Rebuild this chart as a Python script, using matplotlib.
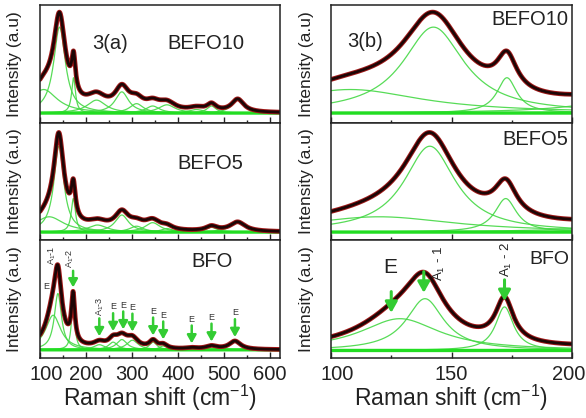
import numpy as np
import matplotlib
matplotlib.use('Agg')
import matplotlib.pyplot as plt
import matplotlib.transforms as mtransforms
from matplotlib.ticker import MultipleLocator

plt.rcParams['font.family'] = ['Liberation Sans', 'DejaVu Sans']
plt.rcParams['mathtext.fontset'] = 'custom'
plt.rcParams['mathtext.rm'] = 'Liberation Sans'
plt.rcParams['mathtext.it'] = 'Liberation Sans:italic'
plt.rcParams['mathtext.bf'] = 'Liberation Sans:bold'

# ---------------- data: fitted Lorentzian modes (centre cm-1, amplitude, HWHM) ----
samples = ['BEFO10', 'BEFO5', 'BFO']

befo10_centers = [108, 142.5, 173, 223, 278, 310, 345, 376, 440, 473, 530]
befo10_amps    = [0.20, 0.73, 0.30, 0.11, 0.18, 0.08, 0.06, 0.07, 0.03, 0.06, 0.11]
befo10_widths  = [36, 15.5, 5, 25, 18, 18, 18, 22, 20, 12, 16]
befo10_base    = 0.082

befo5_centers = [120, 141, 172.5, 225, 278, 310, 345, 376, 473, 530]
befo5_amps    = [0.13, 0.73, 0.285, 0.06, 0.145, 0.05, 0.08, 0.03, 0.04, 0.08]
befo5_widths  = [38, 13, 5.5, 25, 18, 18, 20, 15, 15, 20]
befo5_base    = 0.07

bfo_centers = [128.6, 139, 172, 229, 259, 278, 301, 346, 368, 430, 473, 524]
bfo_amps    = [0.27, 0.44, 0.37, 0.04, 0.06, 0.08, 0.075, 0.06, 0.03, 0.01, 0.025, 0.065]
bfo_widths  = [20, 9.5, 4.5, 15, 12, 14, 15, 10, 10, 15, 15, 15]
bfo_base    = 0.064

# mode labels in the BFO panels
bfo_wide_labels = ['A$_1$-3', 'E', 'E', 'E', 'E', 'E', 'E', 'E', 'E']
bfo_wide_pos    = [229, 259, 281, 301, 346, 368, 430, 473, 524]
bfo_zoom_labels = ['E', 'A$_1$ - 1', 'A$_1$ - 2']
bfo_zoom_pos    = [125, 138.5, 172]

wide_range = (100, 622)
zoom_range = (100, 200)
wide_ticks = [100, 200, 300, 400, 500, 600]
zoom_ticks = [100, 150, 200]

params = {
    'BEFO10': (befo10_centers, befo10_amps, befo10_widths, befo10_base),
    'BEFO5': (befo5_centers, befo5_amps, befo5_widths, befo5_base),
    'BFO': (bfo_centers, bfo_amps, bfo_widths, bfo_base),
}
wide_ytop = {'BEFO10': 1.0, 'BEFO5': 1.0, 'BFO': 0.92}


def lor(x, c, a, g):
    return a * g ** 2 / ((x - c) ** 2 + g ** 2)


def total(name, x):
    cs, am, ws, b = params[name]
    x = np.asarray(x, dtype=float)
    y = np.full_like(x, b)
    for c, a, g in zip(cs, am, ws):
        y = y + lor(x, c, a, g)
    return y


W, H = 586, 418
fig = plt.figure(figsize=(W / 100, H / 100), dpi=100)

rows = [(5, 122.7), (122.7, 240.3), (240.3, 358)]
cols = [(40, 280), (331, 572)]

GREEN = '#45d845'
BASEG = '#22dd22'
ARROW = '#33cc33'
TXT = '#222222'


def add_ax(xp, yp):
    return fig.add_axes([xp[0] / W, 1 - yp[1] / H, (xp[1] - xp[0]) / W,
                         (yp[1] - yp[0]) / H])


def draw(ax, name, xr, ytop):
    x = np.linspace(xr[0], xr[1], 1500)
    cs, am, ws, b = params[name]
    for c, a, g in zip(cs, am, ws):
        ax.plot(x, b + lor(x, c, a, g), color=GREEN, lw=0.9, alpha=0.9)
    ax.plot(x, np.full_like(x, b), color=BASEG, lw=2.4)
    y = total(name, x)
    ax.plot(x, y, color='#a01818', lw=3.4, solid_capstyle='round')
    ax.plot(x, y, color='#1e0606', lw=2.0)
    ax.set_xlim(*xr)
    ax.set_ylim(0, ytop)
    ax.set_yticks([])
    for s in ax.spines.values():
        s.set_linewidth(1.1)
        s.set_color(TXT)
    ax.tick_params(axis='x', which='major', direction='in', length=4.5, width=1,
                   labelsize=14.5, pad=5, colors=TXT, labelcolor=TXT)
    ax.tick_params(axis='x', which='minor', direction='in', length=2.5, width=1,
                   colors=TXT)


def arrow(ax, x, tip, tail, ms, lw):
    ax.annotate('', xy=(x, tip), xytext=(x, tail),
                arrowprops=dict(arrowstyle='-|>,head_width=0.45,head_length=0.8',
                                mutation_scale=ms, color=ARROW, lw=lw,
                                shrinkA=0, shrinkB=0))


axes_wide, axes_zoom = [], []
for i, name in enumerate(samples):
    axw = add_ax(cols[0], rows[i])
    draw(axw, name, wide_range, wide_ytop[name])
    axw.set_xticks(wide_ticks)
    axw.xaxis.set_minor_locator(MultipleLocator(50))
    axz = add_ax(cols[1], rows[i])
    draw(axz, name, zoom_range, 1.0)
    axz.set_xticks(zoom_ticks)
    axz.xaxis.set_minor_locator(MultipleLocator(25))
    if i < 2:
        axw.tick_params(labelbottom=False)
        axz.tick_params(labelbottom=False)
    axes_wide.append(axw)
    axes_zoom.append(axz)

# nudge edge tick labels so they stay inside the canvas
fig.canvas.draw()
for ax in (axes_wide[2], axes_zoom[2]):
    labs = ax.get_xticklabels()
    labs[0].set_transform(labs[0].get_transform() +
                          mtransforms.ScaledTranslation(6 / 100, 0, fig.dpi_scale_trans))
labz = axes_zoom[2].get_xticklabels()
labz[-1].set_transform(labz[-1].get_transform() +
                       mtransforms.ScaledTranslation(-3 / 100, 0, fig.dpi_scale_trans))

# panel texts
tk = dict(fontsize=14.5, color=TXT, ha='center', va='center')
axes_wide[0].text(0.29, 0.677, '3(a)', transform=axes_wide[0].transAxes, **tk)
axes_wide[0].text(0.69, 0.67, 'BEFO10', transform=axes_wide[0].transAxes, **tk)
axes_wide[1].text(0.708, 0.657, 'BEFO5', transform=axes_wide[1].transAxes, **tk)
axes_wide[2].text(0.717, 0.816, 'BFO', transform=axes_wide[2].transAxes, **tk)
axes_zoom[0].text(0.141, 0.686, '3(b)', transform=axes_zoom[0].transAxes, **tk)
axes_zoom[0].text(0.826, 0.873, 'BEFO10', transform=axes_zoom[0].transAxes, **tk)
axes_zoom[1].text(0.846, 0.86, 'BEFO5', transform=axes_zoom[1].transAxes, **tk)
axes_zoom[2].text(0.905, 0.84, 'BFO', transform=axes_zoom[2].transAxes,
                  fontsize=14, color=TXT, ha='center', va='center')

# arrows + labels, wide BFO panel
axb = axes_wide[2]
for lab, xp in zip(bfo_wide_labels, bfo_wide_pos):
    tip = float(total('BFO', [xp])[0]) + 0.03
    tail = tip + 0.14
    arrow(axb, xp, tip, tail, 6, 1.8)
    rot = 90 if lab.startswith('A') else 0
    axb.text(xp, tail + 0.015, lab, fontsize=6.5, color='#333333', ha='center',
             va='bottom', rotation=rot)
axb.text(114.5, 0.555, 'E', fontsize=6.5, color='#333333', ha='center', va='center')
axb.text(126, 0.80, 'A$_1$-1', fontsize=6.5, color='#333333', ha='center',
         va='center', rotation=90)
axb.text(165, 0.78, 'A$_1$-2', fontsize=6.5, color='#333333', ha='center',
         va='center', rotation=90)
tip2 = float(total('BFO', [172.0])[0]) + 0.03
arrow(axb, 172, tip2, tip2 + 0.13, 6, 1.8)

# arrows + labels, zoomed BFO panel
axz = axes_zoom[2]
comp_peaks = [bfo_base + a for a in bfo_amps[:3]]
for lab, xp, pk in zip(bfo_zoom_labels, bfo_zoom_pos, comp_peaks):
    tip = pk + 0.05
    tail = tip + 0.18
    arrow(axz, xp, tip, tail, 8, 2.2)
axz.text(124.5, 0.765, 'E', fontsize=15, color=TXT, ha='center', va='center')
axz.text(145.2, 0.80, 'A$_1$ - 1', fontsize=9.5, color=TXT, ha='center',
         va='center', rotation=90)
axz.text(172.6, 0.835, 'A$_1$ - 2', fontsize=9.5, color=TXT, ha='center',
         va='center', rotation=90)

# axis labels
for yc in [(5 + 122.7) / 2, (122.7 + 240.3) / 2, (240.3 + 358) / 2]:
    fig.text(15 / W, 1 - yc / H, 'Intensity (a.u)', rotation=90, fontsize=12.5,
             ha='center', va='center', color=TXT)
    fig.text(306 / W, 1 - yc / H, 'Intensity (a.u)', rotation=90, fontsize=12.5,
             ha='center', va='center', color=TXT)
fig.text(160 / W, 1 - 398 / H, 'Raman shift (cm$^{-1}$)', fontsize=16.5,
         ha='center', va='center', color=TXT)
fig.text(451 / W, 1 - 398 / H, 'Raman shift (cm$^{-1}$)', fontsize=16.5,
         ha='center', va='center', color=TXT)

fig.savefig('out.png', dpi=100)
